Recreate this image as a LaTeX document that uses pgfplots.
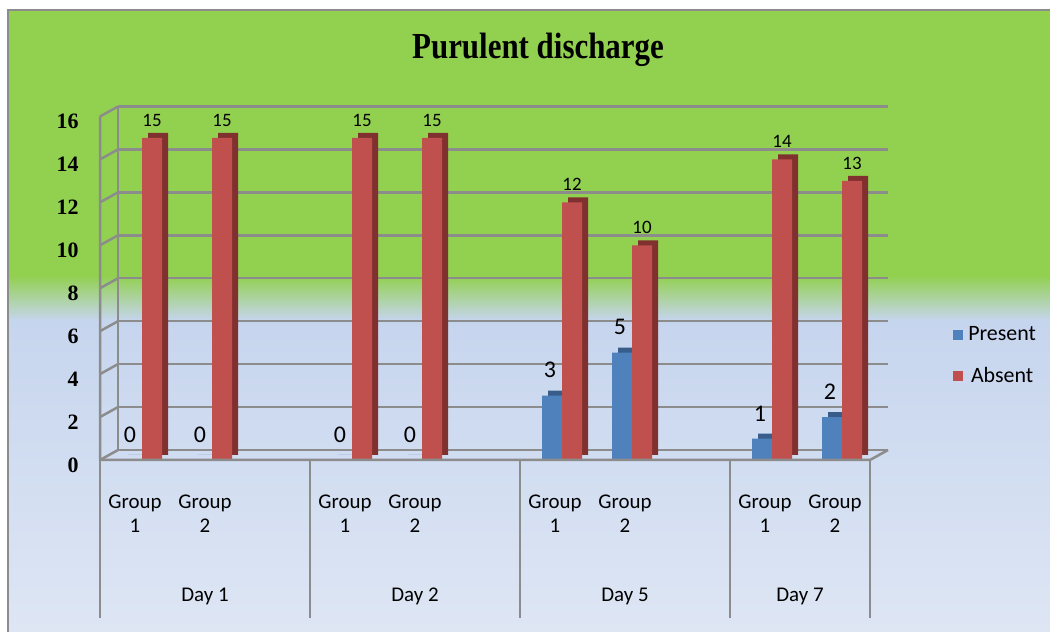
\documentclass[border=0pt]{standalone}
\usepackage{pgfplots}
\pgfplotsset{compat=1.18}
\usepackage{fontspec}
\setmainfont{Carlito}
\newfontfamily\serifb{Liberation Serif}

\definecolor{bggreen}{RGB}{146,208,80}
\definecolor{bgblue}{RGB}{198,213,238}
\definecolor{bgblue2}{RGB}{222,230,244}
\definecolor{gridgray}{RGB}{140,140,140}
\definecolor{barblue}{RGB}{79,129,189}
\definecolor{barblued}{RGB}{56,93,138}
\definecolor{barred}{RGB}{192,80,77}
\definecolor{barredd}{RGB}{128,48,46}

\pgfplotstableread{
x present absent
0 0 15
1 0 15
3 0 15
4 0 15
6 3 12
7 5 10
9 1 14
10 2 13
}\datatable

\begin{document}
\begin{tikzpicture}[x=1bp,y=1bp]
\useasboundingbox (0,0) rectangle (1050,632);
\fill[white] (0,0) rectangle (1050,632);
\fill[bggreen] (8,356) rectangle (1050,622);
\shade[top color=bggreen, bottom color=bgblue] (8,311.5) rectangle (1050,356.5);
\shade[top color=bgblue, bottom color=bgblue2] (8,0) rectangle (1050,312);
\draw[gridgray, line width=2.2] (8,0) -- (8,622) -- (1050,622);

\begin{axis}[
  at={(100bp,172bp)}, anchor=south west, scale only axis,
  width=770bp, height=343.5bp,
  xmin=-0.5, xmax=10.5, ymin=0, ymax=16,
  axis line style={draw=none},
  tick style={draw=none},
  major tick length=0pt,
  clip=false,
  ytick={0,2,...,16},
  ymajorgrids,
  major grid style={gridgray, line width=2.5bp, xshift=18bp, yshift=10bp},
  /pgf/number format/assume math mode=true,
  yticklabel style={font=\serifb\bfseries\fontsize{22}{22}\selectfont, xshift=-18bp, yshift=-5bp},
  xtick={0,1,3,4,6,7,9,10},
  xticklabels={{Group\\1},{Group\\2},{Group\\1},{Group\\2},{Group\\1},{Group\\2},{Group\\1},{Group\\2}},
  xticklabel style={align=center, font=\fontsize{21}{25}\selectfont, yshift=-31bp},
  ybar, bar width=20bp,
  legend style={draw=none, fill=none, at={(1.104,0.40)}, anchor=north west,
    font=\fontsize{22}{24}\selectfont, row sep=21bp,
    /tikz/every odd column/.append style={column sep=3bp}},
  legend image code/.code={\fill[#1] (0bp,-5bp) rectangle (10bp,5bp);},
]
\addplot[fill=barblued, draw=none, bar shift=3bp, yshift=5bp, forget plot] table[x=x, y=present] {\datatable};
\addplot[fill=barblue, draw=none, bar shift=-3bp,
  nodes near coords,
  every node near coord/.append style={font=\fontsize{24}{24}\selectfont, text=black, yshift=14bp, xshift=-2bp}]
  table[x=x, y=present] {\datatable};
\addplot[fill=barredd, draw=none, bar shift=23bp, yshift=5bp, forget plot] table[x=x, y=absent] {\datatable};
\addplot[fill=barred, draw=none, bar shift=17bp,
  nodes near coords,
  every node near coord/.append style={font=\fontsize{19}{19}\selectfont, text=black, yshift=8bp}]
  table[x=x, y=absent] {\datatable};
\legend{Present, Absent}

\pgfplotsinvokeforeach{0,2,4,6,8,10,12,14,16}{
  \draw[gridgray, line width=2.5bp] (axis cs:-0.5,#1) -- ++(18bp,10bp);
}
\draw[gridgray, line width=2.5bp] (axis cs:-0.5,0) ++(18bp,10bp) -- ++(0bp,343.5bp);
\draw[gridgray, line width=2.5bp] (axis cs:-0.5,16) -- (axis cs:-0.5,0) -- (axis cs:10.5,0) -- ++(18bp,10bp);
\pgfplotsinvokeforeach{-0.5,2.5,5.5,8.5,10.5}{
  \draw[gridgray, line width=2.5bp] (axis cs:#1,0) -- ++(0bp,-158bp);
}
\node[font=\fontsize{21}{22}\selectfont, yshift=-136bp] at (axis cs:1,0) {Day 1};
\node[font=\fontsize{21}{22}\selectfont, yshift=-136bp] at (axis cs:4,0) {Day 2};
\node[font=\fontsize{21}{22}\selectfont, yshift=-136bp] at (axis cs:7,0) {Day 5};
\node[font=\fontsize{21}{22}\selectfont, yshift=-136bp] at (axis cs:9.5,0) {Day 7};
\end{axis}
\node at (538,582) {\scalebox{0.97}[1.15]{\serifb\bfseries\fontsize{32}{32}\selectfont Purulent discharge}};
\end{tikzpicture}
\end{document}
